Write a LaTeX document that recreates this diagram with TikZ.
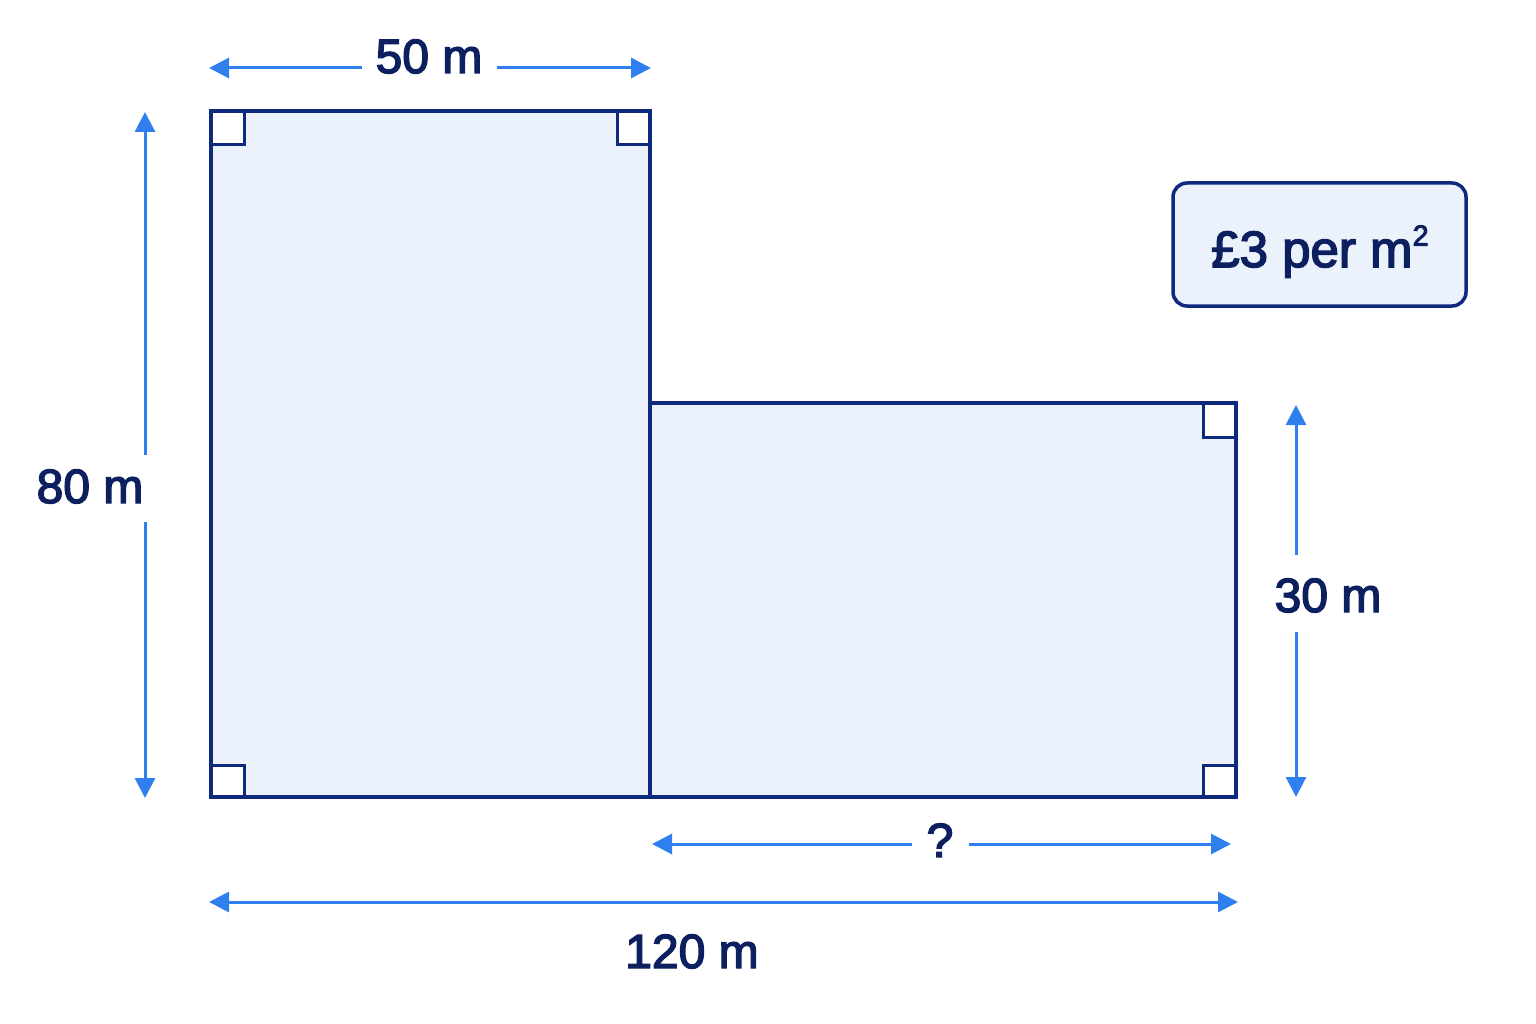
\documentclass[tikz,border=0pt]{standalone}
\usepackage{fontspec}
\setmainfont{Liberation Sans}[BoldFont={Liberation Sans},BoldFeatures={FakeBold=3}]
\usetikzlibrary{arrows.meta}
\definecolor{navy}{HTML}{0E2A7E}
\definecolor{txt}{HTML}{0C1F5E}
\definecolor{lfill}{HTML}{EBF2FC}
\definecolor{ablue}{HTML}{2F80EE}
\tikzset{
  shape line/.style={draw=navy, line width=4.5pt, line join=miter},
  marker/.style={draw=navy, line width=3pt},
  dim/.style={draw=ablue, line width=3pt, -{Triangle[length=20pt,width=20pt]}},
  lab/.style={text=txt, font=\fontsize{48}{58}\selectfont\bfseries, inner sep=0pt},
}
\begin{document}
\begin{tikzpicture}[x=1pt,y=-1pt]
\useasboundingbox (0,0) rectangle (1536,1024);
% corners
\coordinate (A) at (211,111);
\coordinate (B) at (650,111);
\coordinate (C) at (650,403);
\coordinate (D) at (1236,403);
\coordinate (E) at (1236,797);
\coordinate (F) at (650,797);
\coordinate (G) at (211,797);
% fills
\fill[lfill] (A) rectangle (F);
\fill[lfill] (C) rectangle (E);
% right-angle markers
\fill[white] (211,111) rectangle (244,145);
\fill[white] (617,111) rectangle (650,145);
\fill[white] (211,765) rectangle (244,797);
\fill[white] (1203,403) rectangle (1236,437);
\fill[white] (1203,765) rectangle (1236,797);
\draw[marker] (211,145) -| (244,111);
\draw[marker] (617,111) |- (650,145);
\draw[marker] (211,765) -| (244,797);
\draw[marker] (1203,403) |- (1236,437);
\draw[marker] (1203,797) |- (1236,765);
% outline
\draw[shape line] (A) -- (B) -- (C) -- (D) -- (E) -- (G) -- cycle;
\draw[shape line] (C) -- (F);
% 50 m
\coordinate (t1) at (209,68); \coordinate (t2) at (362,68);
\coordinate (t3) at (497,68); \coordinate (t4) at (651,68);
\node[lab, anchor=base] (l50) at (429,73) {50 m};
\draw[dim] (t2) -- (t1);
\draw[dim] (t3) -- (t4);
% 80 m
\coordinate (v1) at (145,112); \coordinate (v2) at (145,455);
\coordinate (v3) at (145,522); \coordinate (v4) at (145,798);
\node[lab, anchor=base] (l80) at (90,503) {80 m};
\draw[dim] (v2) -- (v1);
\draw[dim] (v3) -- (v4);
% 30 m
\coordinate (w1) at (1296,405); \coordinate (w2) at (1296,555);
\coordinate (w3) at (1296,632); \coordinate (w4) at (1296,797);
\node[lab, anchor=base] (l30) at (1328,612) {30 m};
\draw[dim] (w2) -- (w1);
\draw[dim] (w3) -- (w4);
% ?
\coordinate (q1) at (652,844); \coordinate (q2) at (912,844);
\coordinate (q3) at (969,844); \coordinate (q4) at (1231,844);
\node[lab, anchor=base] (lq) at (940,857) {?};
\draw[dim] (q2) -- (q1);
\draw[dim] (q3) -- (q4);
% 120 m
\coordinate (b1) at (209,902); \coordinate (b2) at (1238,902);
\draw[dim, {Triangle[length=20pt,width=20pt]}-{Triangle[length=20pt,width=20pt]}] (b1) -- (b2);
\node[lab, anchor=base] (l120) at (692,968) {120 m};
% price box
\draw[navy, line width=3.5pt, fill=lfill, rounded corners=14pt] (1173,183) rectangle (1466,306);
\node[lab, anchor=base, font=\fontsize{51}{60}\selectfont\bfseries] (price) at (1320,267) {£3 per m\raisebox{0.42em}{\fontsize{29}{30}\selectfont\bfseries 2}};
\end{tikzpicture}
\end{document}
